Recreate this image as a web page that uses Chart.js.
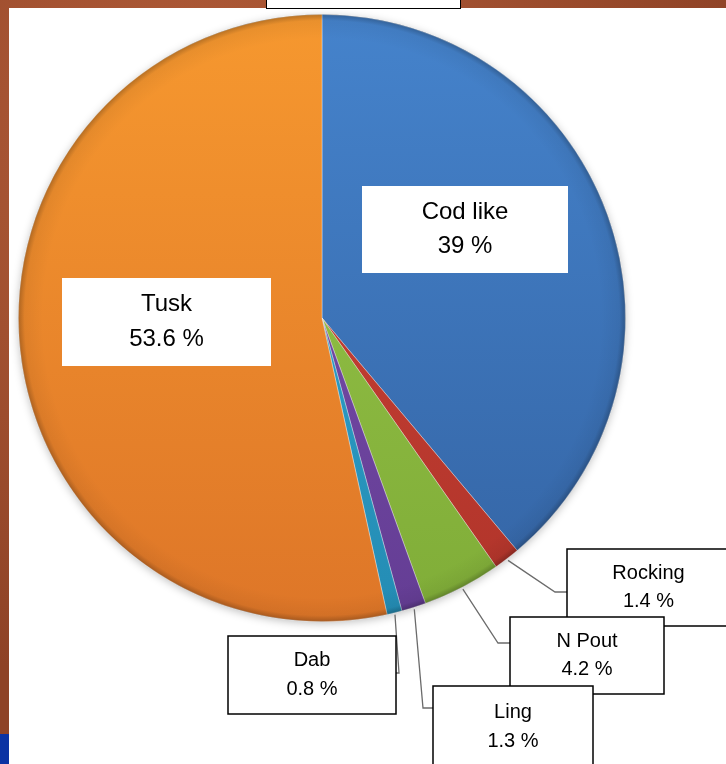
<!DOCTYPE html>
<html lang="en">
  <head>
    <meta charset="utf-8" />
    <title>Catch composition</title>
    <script src="https://cdn.jsdelivr.net/npm/chart.js@4.4.1/dist/chart.umd.min.js"></script>
    <style>
      * {
        margin: 0;
        padding: 0;
        box-sizing: border-box;
      }
      body {
        width: 726px;
        height: 764px;
        overflow: hidden;
        background: radial-gradient(circle at 30% 20%, #b45e3a, #8e4226 70%);
        position: relative;
        font-family: "Liberation Sans", Arial, sans-serif;
      }
      .panel {
        position: absolute;
        left: 9px;
        top: 8px;
        right: 0;
        bottom: 0;
        background: #ffffff;
      }
      .topbox {
        position: absolute;
        left: 266px;
        top: -2px;
        width: 195px;
        height: 11px;
        background: #fff;
        border: 1.5px solid #000;
      }
      .corner {
        position: absolute;
        left: 0;
        top: 734px;
        width: 9px;
        height: 30px;
        background: #0b33a3;
      }
      #chart {
        position: absolute;
        left: 0;
        top: 0;
      }
    </style>
  </head>
  <body>
    <div class="panel"></div>
    <div class="topbox"></div>
    <div class="corner"></div>
    <canvas id="chart" width="726" height="764"></canvas>
    <script>
      // data, clockwise from 12 o'clock
      const categories = ["Cod like", "Rocking", "N Pout", "Ling", "Dab", "Tusk"];
      const percents = [39, 1.4, 4.2, 1.3, 0.8, 53.6];
      // top / bottom shade of each slice
      const colorsTop = ["#4583cc", "#d04438", "#98c64a", "#7d52b0", "#33aad2", "#f6982f"];
      const colorsBottom = ["#3464a4", "#b0342a", "#80ad38", "#643d94", "#248cb4", "#de7628"];

      // label boxes (layout only): x, y, w, h, framed, font size, elbow of leader line
      const boxes = [
        { x: 362, y: 186, w: 206, h: 87, frame: false, size: 24 },
        { x: 567, y: 549, w: 170, h: 77, frame: true, size: 20, elbow: [555, 592], end: 567 },
        { x: 510, y: 617, w: 154, h: 77, frame: true, size: 20, elbow: [498, 643], end: 510 },
        { x: 433, y: 686, w: 160, h: 82, frame: true, size: 20, elbow: [423, 708], end: 433 },
        { x: 228, y: 636, w: 168, h: 78, frame: true, size: 20, elbow: [399, 673], end: 396 },
        { x: 62, y: 278, w: 209, h: 88, frame: false, size: 24 },
      ];

      const sliceFill = (ctx) => {
        const area = ctx.chart.chartArea;
        const i = ctx.dataIndex;
        if (!area) return colorsTop[i];
        const g = ctx.chart.ctx.createLinearGradient(0, area.top, 0, area.bottom);
        g.addColorStop(0, colorsTop[i]);
        g.addColorStop(1, colorsBottom[i]);
        return g;
      };

      const rimShade = {
        id: "rimShade",
        beforeDatasetsDraw(chart) {
          const arc = chart.getDatasetMeta(0).data[0];
          const { x, y, outerRadius } = arc.getProps(["x", "y", "outerRadius"], true);
          const ctx = chart.ctx;
          ctx.save();
          ctx.shadowColor = "rgba(0,0,0,0.25)";
          ctx.shadowBlur = 8;
          ctx.shadowOffsetY = 2;
          ctx.beginPath();
          ctx.arc(x, y, outerRadius, 0, Math.PI * 2);
          ctx.fillStyle = "#aaa";
          ctx.fill();
          ctx.restore();
        },
        afterDatasetsDraw(chart) {
          const arc = chart.getDatasetMeta(0).data[0];
          const { x, y, outerRadius } = arc.getProps(["x", "y", "outerRadius"], true);
          const ctx = chart.ctx;
          ctx.save();
          const g = ctx.createRadialGradient(x, y, outerRadius * 0.92, x, y, outerRadius);
          g.addColorStop(0, "rgba(0,0,0,0)");
          g.addColorStop(0.75, "rgba(0,0,0,0.05)");
          g.addColorStop(1, "rgba(0,0,0,0.25)");
          ctx.beginPath();
          ctx.arc(x, y, outerRadius, 0, Math.PI * 2);
          ctx.fillStyle = g;
          ctx.fill();
          ctx.restore();
        },
      };

      const calloutLabels = {
        id: "calloutLabels",
        afterDraw(chart) {
          const ctx = chart.ctx;
          const arcs = chart.getDatasetMeta(0).data;
          ctx.save();
          arcs.forEach((arc, i) => {
            const b = boxes[i];
            const p = arc.getProps(["x", "y", "startAngle", "endAngle", "outerRadius"], true);
            if (b.elbow) {
              const mid = (p.startAngle + p.endAngle) / 2;
              const sx = p.x + Math.cos(mid) * (p.outerRadius + 2);
              const sy = p.y + Math.sin(mid) * (p.outerRadius + 2);
              ctx.beginPath();
              ctx.moveTo(sx, sy);
              ctx.lineTo(b.elbow[0], b.elbow[1]);
              ctx.lineTo(b.end, b.elbow[1]);
              ctx.strokeStyle = "#6b6b6b";
              ctx.lineWidth = 1.3;
              ctx.stroke();
            }
            ctx.fillStyle = "#ffffff";
            ctx.fillRect(b.x, b.y, b.w, b.h);
            if (b.frame) {
              ctx.strokeStyle = "#000";
              ctx.lineWidth = 1.5;
              ctx.strokeRect(b.x, b.y, b.w, b.h);
            }
            ctx.fillStyle = "#000";
            ctx.font = b.size + 'px "Liberation Sans", Arial, sans-serif';
            ctx.textAlign = "center";
            ctx.textBaseline = "middle";
            const cx = b.x + (b.x + b.w > 726 ? (726 - b.x) / 2 + 2 : b.w / 2);
            const cy = b.y + b.h / 2;
            const gap = b.size * 0.72;
            ctx.fillText(categories[i], cx, cy - gap);
            ctx.fillText(percents[i] + " %", cx, cy + gap);
          });
          ctx.restore();
        },
      };

      new Chart(document.getElementById("chart"), {
        type: "pie",
        data: {
          labels: categories,
          datasets: [
            {
              data: percents,
              backgroundColor: sliceFill,
              borderColor: "rgba(255,255,255,0.35)",
              borderWidth: 1,
            },
          ],
        },
        plugins: [rimShade, calloutLabels],
        options: {
          responsive: false,
          animation: false,
          layout: { padding: { left: 18, right: 100, top: 14, bottom: 142 } },
          plugins: {
            legend: { display: false },
            tooltip: { enabled: false },
          },
        },
      });
    </script>
  </body>
</html>
